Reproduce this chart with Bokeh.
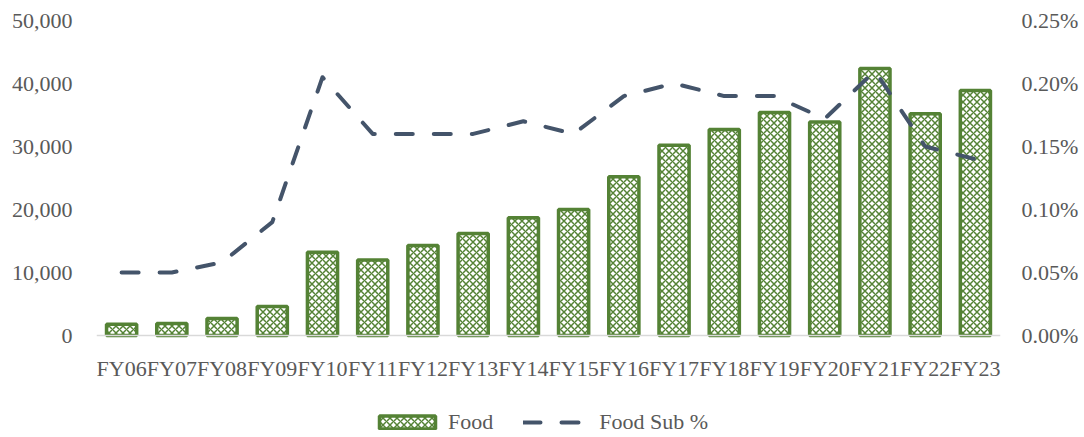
from bokeh.plotting import figure
from bokeh.models import (FactorRange, Range1d, LinearAxis, FixedTicker, NumeralTickFormatter,
                          Legend, LegendItem, ColumnDataSource, Span)
from bokeh.core.properties import value
from bokeh.embed import file_html
from bokeh.resources import INLINE

years = ["FY06", "FY07", "FY08", "FY09", "FY10", "FY11", "FY12", "FY13", "FY14",
         "FY15", "FY16", "FY17", "FY18", "FY19", "FY20", "FY21", "FY22", "FY23"]
food = [1800, 1900, 2700, 4600, 13200, 12000, 14300, 16200, 18700,
        20000, 25200, 30200, 32700, 35400, 33900, 42400, 35200, 38900]
food_sub_pct = [0.0005, 0.0005, 0.00058, 0.0009, 0.00205, 0.0016, 0.0016, 0.0016, 0.0017,
                0.0016, 0.0019, 0.0020, 0.0019, 0.0019, 0.00172, 0.0021, 0.0015, 0.0014]
left_ticks = [0, 10000, 20000, 30000, 40000, 50000]
right_ticks = [0, 0.0005, 0.0010, 0.0015, 0.0020, 0.0025]

FONT = "Liberation Serif"
GREEN = "#548235"
NAVY = "#44546A"
GRAY = "#595959"

# layout: data area 315px tall, plus 102px below the zero line for labels + legend
PLOT_H = 315
EXTRA = 102
LEFT_MAX = left_ticks[-1]
RIGHT_MAX = right_ticks[-1]

src = ColumnDataSource(dict(x=years, food=food, pct=food_sub_pct,
                            zero=[0] * len(years)))

p = figure(x_range=FactorRange(*years, range_padding=0),
           y_range=Range1d(-LEFT_MAX * EXTRA / PLOT_H, LEFT_MAX),
           frame_width=904, frame_height=PLOT_H + EXTRA, output_backend="svg",
           toolbar_location=None,
           min_border_left=96, min_border_right=76, min_border_top=20, min_border_bottom=0)
p.outline_line_color = None
p.xgrid.grid_line_color = None
p.ygrid.grid_line_color = None
p.extra_y_ranges = {"pct": Range1d(-RIGHT_MAX * EXTRA / PLOT_H, RIGHT_MAX)}
p.xaxis.visible = False

p.add_layout(Span(location=0, dimension="width", line_color="#D9D9D9", line_width=1.5))

bars = p.vbar(x="x", top="food", width=0.6, source=src, fill_color="white",
              line_color=GREEN, line_width=3.5, hatch_pattern="diagonal_cross",
              hatch_color=GREEN, hatch_scale=7, hatch_weight=1.5)
line = p.line(x="x", y="pct", source=src, y_range_name="pct", line_color=NAVY,
              line_width=4, line_dash="17 21", line_cap="round", line_join="round")

# category labels under the zero line
p.text(x="x", y="zero", text="x", source=src, text_align="center", text_baseline="middle",
       y_offset=33, text_font=value(FONT), text_font_size="22px", text_color=GRAY)

# y axes
p.yaxis.ticker = FixedTicker(ticks=left_ticks)
p.yaxis.formatter = NumeralTickFormatter(format="0,0")
ra = LinearAxis(y_range_name="pct", ticker=FixedTicker(ticks=right_ticks),
                formatter=NumeralTickFormatter(format="0.00%"))
p.add_layout(ra, "right")

for ax in [p.yaxis[0], ra]:
    ax.axis_line_color = None
    ax.major_tick_line_color = None
    ax.minor_tick_line_color = None
    ax.major_label_text_font = FONT
    ax.major_label_text_font_size = "22px"
    ax.major_label_text_color = GRAY
p.yaxis[0].major_label_standoff = 18
ra.major_label_standoff = 15

legend = Legend(items=[LegendItem(label="Food", renderers=[bars]),
                       LegendItem(label="Food Sub %", renderers=[line])],
                orientation="horizontal", location=(276, 2),
                glyph_width=70, glyph_height=16, label_text_font=FONT,
                label_text_font_size="22px", label_text_color=GRAY,
                border_line_color=None, background_fill_alpha=0,
                spacing=30, margin=0, padding=0, label_standoff=6)
p.add_layout(legend, "center")

open("out.html", "w").write(file_html(p, INLINE))
